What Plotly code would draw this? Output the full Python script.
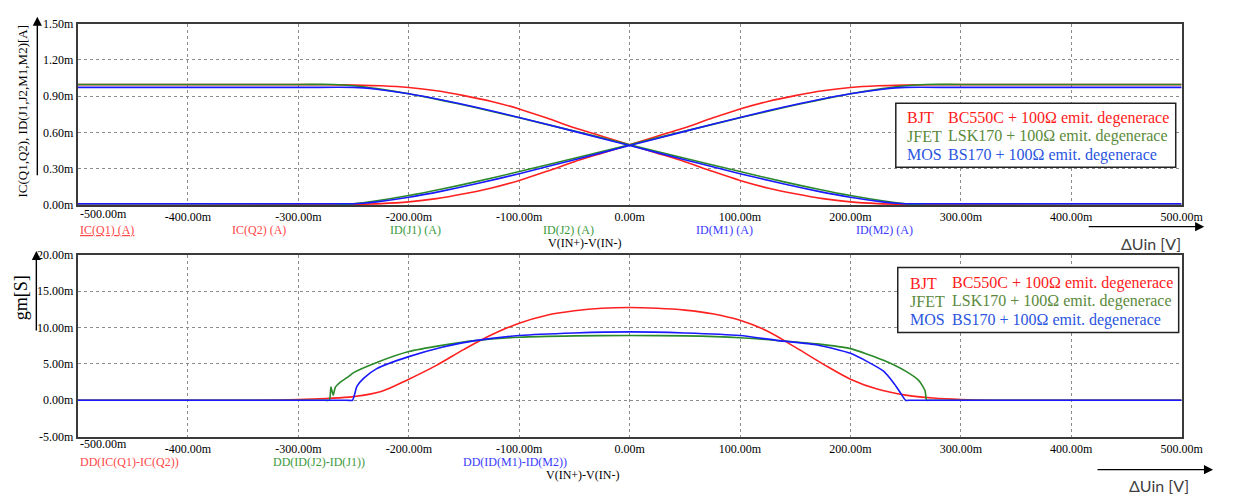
import plotly.graph_objects as go

W, H = 1238, 499

# ---------------- data (x in mV, currents in mA, gm in mS) ----------------
x_bjt = [-500, -400, -300, -275, -250, -225, -200, -175, -150, -125, -100, -75, -50, -25, 0,
         25, 50, 75, 100, 125, 150, 175, 200, 225, 250, 275, 300, 400, 500]
ic_q1 = [0.996, 0.996, 0.996, 0.995, 0.992, 0.986, 0.972, 0.945, 0.905, 0.857, 0.795, 0.72, 0.64, 0.57, 0.5,
         0.43, 0.36, 0.28, 0.205, 0.143, 0.095, 0.055, 0.028, 0.014, 0.008, 0.005, 0.003, 0.0, 0.0]
ic_q2 = [0.0, 0.0, 0.003, 0.005, 0.008, 0.014, 0.028, 0.055, 0.095, 0.143, 0.205, 0.28, 0.36, 0.43, 0.5,
         0.57, 0.64, 0.72, 0.795, 0.857, 0.905, 0.945, 0.972, 0.986, 0.992, 0.995, 0.996, 0.996, 0.996]

x_jfet = [-500, -400, -300, -268, -250, -229, -200, -170, -140, -100, -50, 0,
          50, 100, 140, 170, 200, 229, 250, 268, 300, 400, 500]
id_j1 = [0.0, 0.0, 0.0, 0.0, 0.013, 0.037, 0.08, 0.134, 0.193, 0.278, 0.388, 0.5,
         0.612, 0.722, 0.807, 0.866, 0.92, 0.963, 0.987, 0.997, 0.997, 0.997, 0.997]
id_j2 = [0.997, 0.997, 0.997, 0.997, 0.987, 0.963, 0.92, 0.866, 0.807, 0.722, 0.612, 0.5,
         0.388, 0.278, 0.193, 0.134, 0.08, 0.037, 0.013, 0.0, 0.0, 0.0, 0.0]

x_mos = [-500, -400, -300, -250, -241, -229, -200, -170, -140, -100, -50, 0,
         50, 100, 140, 170, 200, 229, 241, 250, 300, 400, 500]
id_m1 = [0.013, 0.013, 0.013, 0.013, 0.017, 0.028, 0.066, 0.117, 0.175, 0.261, 0.376, 0.493,
         0.61, 0.725, 0.811, 0.869, 0.92, 0.958, 0.969, 0.973, 0.973, 0.973, 0.973]
id_m2 = [0.973, 0.973, 0.973, 0.973, 0.969, 0.958, 0.92, 0.869, 0.811, 0.725, 0.61, 0.493,
         0.376, 0.261, 0.175, 0.117, 0.066, 0.028, 0.017, 0.013, 0.013, 0.013, 0.013]

x_gm_bjt = [-500, -450, -400, -370, -340, -300, -275, -250, -225, -200, -175, -150, -125, -100, -75, -50, -25, 0,
            25, 50, 75, 100, 125, 150, 175, 200, 225, 250, 275, 300, 330, 370, 400, 450, 500]
gm_bjt = [0, 0, 0, 0, 0, 0.1, 0.25, 0.5, 1.2, 2.9, 4.8, 7.0, 9.0, 10.6, 11.7, 12.3, 12.65, 12.75,
          12.65, 12.4, 11.9, 11.0, 9.5, 7.3, 5.0, 2.9, 1.5, 0.7, 0.3, 0.1, 0, 0, 0, 0, 0]

x_gm_jfet = [-500, -400, -300, -285, -276, -272, -270.5, -268.5, -266.5, -262, -256, -250, -229, -200, -170,
             -140, -100, -50, 0, 50, 100, 135, 170, 200, 230, 250, 262, 267.6, 269, 272, 280, 300, 400, 500]
gm_jfet = [0, 0, 0, 0, 0, 0, 1.8, 0.7, 1.8, 2.5, 3.1, 3.8, 5.2, 6.7, 7.55,
           8.2, 8.67, 8.85, 8.9, 8.85, 8.6, 8.2, 7.75, 7.1, 5.5, 4.0, 2.7, 1.3, 0, 0, 0, 0, 0, 0]

x_gm_mos = [-500, -400, -300, -265, -256, -251, -247, -241, -229, -200, -170, -140, -100, -50, 0,
            50, 100, 135, 170, 200, 230, 240, 245, 250, 254, 262, 300, 400, 500]
gm_mos = [0, 0, 0, 0, 0, 0, 1.9, 3.0, 4.35, 6.0, 7.3, 8.2, 8.9, 9.25, 9.4,
          9.25, 8.9, 8.2, 7.6, 6.45, 4.0, 2.2, 1.1, 0, 0, 0, 0, 0, 0]

x_ticks = [-400, -300, -200, -100, 0, 100, 200, 300, 400, 500]
x_ticktext = ["-400.00m", "-300.00m", "-200.00m", "-100.00m", "0.00m",
              "100.00m", "200.00m", "300.00m", "400.00m", "500.00m"]
y1_ticks = [0, 0.3, 0.6, 0.9, 1.2, 1.5]
y1_ticktext = ["0.00m", "0.30m", "0.60m", "0.90m", "1.20m", "1.50m"]
y2_ticks = [-5, 0, 5, 10, 15, 20]
y2_ticktext = ["-5.00m", "0.00m", "5.00m", "10.00m", "15.00m", "20.00m"]

legend_rows = [("BJT", "BC550C + 100Ω emit. degenerace"),
               ("JFET", "LSK170 + 100Ω emit. degenerace"),
               ("MOS", "BS170 + 100Ω emit. degenerace")]

# ---------------- styling ----------------
RED, GREEN, BLUE = "#ff2020", "#2a8a2a", "#1a1aff"
LEG_COLORS = ["#ff1a1a", "#5a8a3c", "#2a55e0"]
LBL_RED, LBL_GREEN, LBL_BLUE = "#ff4848", "#3c9a3c", "#3a3aff"
SERIF = "Liberation Serif"


def px(x):
    return x / W


def py(y):
    return 1 - y / H


fig = go.Figure()
lw = 1.6


def line(x, y, color, xa, ya, smooth=0.8):
    fig.add_trace(go.Scatter(x=x, y=y, mode="lines",
                             line=dict(color=color, width=lw, shape="spline", smoothing=smooth),
                             xaxis=xa, yaxis=ya, hoverinfo="x+y"))


line(x_bjt, ic_q1, RED, "x", "y")
line(x_bjt, ic_q2, RED, "x", "y")
line(x_jfet, id_j1, GREEN, "x", "y")
line(x_jfet, id_j2, GREEN, "x", "y")
line(x_mos, id_m1, BLUE, "x", "y")
line(x_mos, id_m2, BLUE, "x", "y")

line(x_gm_bjt, gm_bjt, RED, "x2", "y2", 1.0)
line(x_gm_jfet, gm_jfet, GREEN, "x2", "y2", 0.6)
line(x_gm_mos, gm_mos, BLUE, "x2", "y2", 0.6)

xdom = [px(79), px(1203)]
ax_common = dict(showline=True, linecolor="#3a3a3a", linewidth=1.5, mirror=True,
                 showgrid=True, gridcolor="#8c8c8c", griddash="dot", gridwidth=1,
                 zeroline=False, ticks="", tickfont=dict(family=SERIF, size=12, color="black"))

fig.update_layout(
    width=W, height=H, autosize=False,
    margin=dict(l=0, r=0, t=0, b=0),
    paper_bgcolor="white", plot_bgcolor="white",
    showlegend=False,
    xaxis=dict(domain=xdom, range=[-500, 500], tickvals=x_ticks, ticktext=x_ticktext,
               anchor="y", **ax_common),
    yaxis=dict(domain=[py(204), py(17)], range=[0, 1.5], tickvals=y1_ticks, ticktext=y1_ticktext,
               anchor="x", **ax_common),
    xaxis2=dict(domain=xdom, range=[-500, 500], tickvals=x_ticks, ticktext=x_ticktext,
                anchor="y2", **ax_common),
    yaxis2=dict(domain=[py(442), py(255)], range=[-5, 20], tickvals=y2_ticks, ticktext=y2_ticktext,
                anchor="x2", **ax_common),
)

ann = []


def text(x, y, s, color="black", size=12, family=SERIF, xanchor="center", angle=0):
    ann.append(dict(x=px(x), y=py(y), xref="paper", yref="paper", text=s, showarrow=False,
                    xanchor=xanchor, yanchor="middle", textangle=angle,
                    font=dict(family=family, size=size, color=color)))


def arrow(x_head, y_head, dx, dy):
    ann.append(dict(x=px(x_head), y=py(y_head), xref="paper", yref="paper", text="",
                    showarrow=True, ax=dx, ay=dy, axref="pixel", ayref="pixel",
                    arrowhead=2, arrowsize=1.3, arrowwidth=1.4, arrowcolor="black"))


# -500 tick labels (shifted inside the frame like the original)
text(79, 213, "-500.00m", xanchor="left")
text(79, 450, "-500.00m", xanchor="left")

# axis titles
text(23, 107, "IC(Q1,Q2), ID(J1,J2,M1,M2)[A]", size=13, angle=-90)
text(21, 299, "gm[S]", size=18, angle=-90)
arrow(38, 10, 0, 160)
arrow(37, 251, 0, 81)

# ΔUin labels
text(1172, 243, "ΔUin [V]", color="#404040", size=16, family="Lato")
arrow(1226, 226, -117, 0)
text(1180, 492, "ΔUin [V]", color="#404040", size=16, family="Lato")
arrow(1235, 476, -117, 0)

# trace labels, top
text(79, 229, "<u>IC(Q1) (A)</u>", color=LBL_RED, xanchor="left")
text(264, 229, "IC(Q2) (A)", color=LBL_RED)
text(423, 229, "ID(J1) (A)", color=LBL_GREEN)
text(579, 229, "ID(J2) (A)", color=LBL_GREEN)
text(738, 229, "ID(M1) (A)", color=LBL_BLUE)
text(900, 229, "ID(M2) (A)", color=LBL_BLUE)
text(595, 243, "V(IN+)-V(IN-)")

# trace labels, bottom
text(79, 468, "DD(IC(Q1)-IC(Q2))", color=LBL_RED, xanchor="left")
text(325, 468, "DD(ID(J2)-ID(J1))", color=LBL_GREEN)
text(524, 468, "DD(ID(M1)-ID(M2))", color=LBL_BLUE)
text(593, 481, "V(IN+)-V(IN-)")

# legend boxes
shapes = []
for (bx0, by0, bx1, by1, lx, tx, rows_y) in [
        (912, 99, 1197, 165, 921, 963, [114, 133, 152]),
        (914, 268, 1200, 335, 924, 967, [284, 303, 322])]:
    shapes.append(dict(type="rect", xref="paper", yref="paper",
                       x0=px(bx0), x1=px(bx1), y0=py(by1), y1=py(by0),
                       line=dict(color="#222222", width=1.5), fillcolor="white", layer="above"))
    for (name, desc), ry, col in zip(legend_rows, rows_y, LEG_COLORS):
        text(lx, ry, name, color=col, size=16, xanchor="left")
        text(tx, ry, desc, color=col, size=16, xanchor="left")

fig.update_layout(annotations=ann, shapes=shapes)
fig.write_html("out.html")
